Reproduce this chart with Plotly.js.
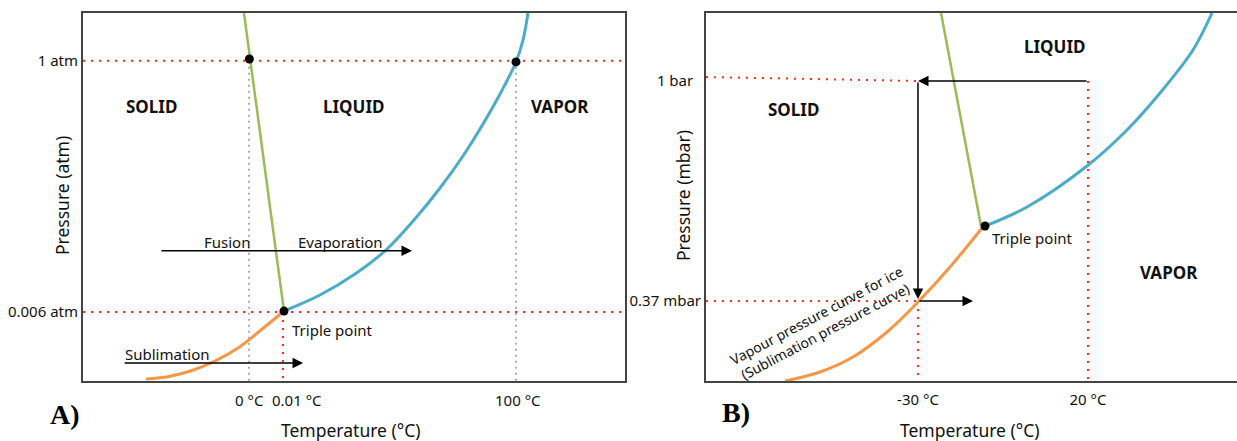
<!DOCTYPE html>
<html><head><meta charset="utf-8">
<script src="https://cdn.plot.ly/plotly-3.0.1.min.js"></script>
<style>html,body{margin:0;padding:0;background:#fff}#chart{width:1237px;height:441px}</style>
</head><body><div id="chart"></div>
<script>
// ---------- Panel A (schematic units: 0–100 across the frame) ----------
const aTickX = [30.63, 36.9, 79.89];
const aTickXText = ['0 °C', '0.01 °C', '100 °C'];
const aTickY = [18.75, 87.0];
const aTickYText = ['0.006 atm', '1 atm'];
const aMeltX = [29.70, 37.08];
const aMeltY = [100, 19.02];
const aVapX = [37.08, 43.73, 50.18, 55.90, 61.07, 65.87, 70.11, 73.80, 76.94, 79.89, 81.18, 82.10];
const aVapY = [19.02, 23.37, 29.08, 35.60, 43.75, 52.45, 61.14, 69.84, 77.99, 86.68, 92.66, 100];
const aSubX = [11.62, 15.87, 20.11, 24.35, 28.60, 32.84, 37.08];
const aSubY = [0.54, 1.22, 2.85, 5.43, 8.97, 13.86, 19.02];
const aDotX = [30.7, 37.08, 79.89];
const aDotY = [87.5, 19.0, 86.7];
const aRegionText = ['SOLID', 'LIQUID', 'VAPOR'];
const aRegionX = [12.55, 49.82, 88.0];
const aRegionY = [74.46, 74.46, 74.46];
const aArrowX0 = [14.2, 7.4];
const aArrowX1 = [60.7, 40.6];
const aArrowY = [35.4, 4.9];
const aLabelText = ['Fusion', 'Evaporation', 'Sublimation'];
const aLabelX = [26.57, 47.42, 15.5];
const aLabelY = [37.77, 37.77, 7.34];
const aTripleX = 38.2, aTripleY = 13.86;

// ---------- Panel B ----------
const bTickX = [39.92, 71.94];
const bTickXText = ['-30 °C', '20 °C'];
const bTickY = [21.74, 81.52];
const bTickYText = ['0.37 mbar', '1 bar\u00a0\u00a0'];
const bBarLineX = [0, 39.92];
const bBarLineY = [82.61, 81.52];
const bMeltX = [44.26, 51.79];
const bMeltY = [100, 42.12];
const bVapX = [52.54, 60.45, 71.75, 79.28, 85.50, 91.71, 95.29];
const bVapY = [42.12, 47.28, 58.42, 68.21, 78.26, 89.95, 100];
const bSubX = [14.88, 21.47, 27.68, 34.09, 39.92, 45.95, 51.98];
const bSubY = [0, 2.45, 6.52, 13.32, 21.47, 30.98, 41.58];
const bDotX = [52.54];
const bDotY = [42.12];
const bRegionText = ['SOLID', 'LIQUID', 'VAPOR'];
const bRegionX = [16.57, 65.54, 87.19];
const bRegionY = [73.9, 91.0, 29.6];
// path: 20 °C at 1 bar -> -30 °C at 1 bar -> -30 °C at 0.37 mbar -> heating
const bPathX0 = [71.94, 39.92, 39.92];
const bPathY0 = [81.52, 81.52, 21.74];
const bPathX1 = [39.92, 39.92, 50.28];
const bPathY1 = [81.52, 22.28, 21.74];
const bTripleX = 53.48, bTripleY = 38.86;
const bCurveNote = 'Vapour pressure curve for ice<br>(Sublimation pressure curve)';
const bCurveNoteX = 21.47, bCurveNoteY = 15.76;

// ---------- styling ----------
const W = 1237, H = 441;
const FONT = 'Noto Sans, Open Sans, sans-serif';
const GREEN = '#9bbb59', BLUE = '#4bacc6', ORANGE = '#f79646', RED = '#ff2a1a', GRAY = '#9a9a9a';
const redDot = {color: RED, width: 2, dash: '2px,6px'};
const grayDot = {color: GRAY, width: 1.6, dash: '2px,4px'};
const px2x = p => p / W, px2y = p => 1 - p / H;
const yDom = [px2y(381), px2y(13)];
const aTickShift = [0, 14, 2];   // label offsets (px) as laid out in the reference

function seg(xs0, ys0, xs1, ys1) {
  const x = [], y = [];
  for (let i = 0; i < xs0.length; i++) { x.push(xs0[i], xs1[i], null); y.push(ys0[i], ys1[i], null); }
  return {x, y};
}
function line(xy, ln, xa, ya, shape) {
  return {x: xy.x, y: xy.y, mode: 'lines', line: Object.assign({shape: shape || 'linear'}, ln),
          xaxis: xa, yaxis: ya, hoverinfo: 'skip', showlegend: false, connectgaps: false};
}

const traces = [];
// Panel A guides
traces.push(line(seg([0, 0], aTickY, [100, 100], aTickY), redDot, 'x', 'y'));
traces.push(line(seg([aTickX[0], aTickX[2]], [aTickY[1], aTickY[1]], [aTickX[0], aTickX[2]], [0, 0]), grayDot, 'x', 'y'));
traces.push(line(seg([aTickX[1]], [aTickY[0]], [aTickX[1]], [0]), redDot, 'x', 'y'));
// Panel A curves
traces.push(line({x: aMeltX, y: aMeltY}, {color: GREEN, width: 2.5}, 'x', 'y'));
traces.push(line({x: aVapX, y: aVapY}, {color: BLUE, width: 3, smoothing: 1}, 'x', 'y', 'spline'));
traces.push(line({x: aSubX, y: aSubY}, {color: ORANGE, width: 3, smoothing: 1}, 'x', 'y', 'spline'));
traces.push({x: aDotX, y: aDotY, mode: 'markers', marker: {color: '#000', size: 9}, xaxis: 'x', yaxis: 'y', hoverinfo: 'skip', showlegend: false});

// Panel B guides
traces.push(line({x: bBarLineX, y: bBarLineY}, redDot, 'x2', 'y2'));
traces.push(line(seg([0], [bTickY[0]], [bTickX[0]], [bTickY[0]]), redDot, 'x2', 'y2'));
traces.push(line(seg(bTickX, bTickY, bTickX, [0, 0]), redDot, 'x2', 'y2'));
// Panel B curves
traces.push(line({x: bMeltX, y: bMeltY}, {color: GREEN, width: 2.5}, 'x2', 'y2'));
traces.push(line({x: bVapX, y: bVapY}, {color: BLUE, width: 3, smoothing: 1}, 'x2', 'y2', 'spline'));
traces.push(line({x: bSubX, y: bSubY}, {color: ORANGE, width: 3, smoothing: 1}, 'x2', 'y2', 'spline'));
traces.push({x: bDotX, y: bDotY, mode: 'markers', marker: {color: '#000', size: 9}, xaxis: 'x2', yaxis: 'y2', hoverinfo: 'skip', showlegend: false});

const ann = [];
function txt(text, x, y, xr, yr, opts) {
  ann.push(Object.assign({text, x, y, xref: xr, yref: yr, showarrow: false, xanchor: 'center', yanchor: 'middle',
    font: {family: FONT, size: 15, color: '#111'}}, opts || {}));
}
function arrow(x0, y0, x1, y1, xr, yr) {
  ann.push({x: x1, y: y1, ax: x0, ay: y0, xref: xr, yref: yr, axref: xr, ayref: yr, text: '',
    showarrow: true, arrowhead: 2, arrowsize: 1.4, arrowwidth: 1.5, arrowcolor: '#000', standoff: 0});
}
const boldFont = {family: FONT, size: 17, color: '#111', weight: 'bold'};
aRegionText.forEach((t, i) => txt('<b>' + t + '</b>', aRegionX[i], aRegionY[i], 'x', 'y', {font: boldFont}));
bRegionText.forEach((t, i) => txt('<b>' + t + '</b>', bRegionX[i], bRegionY[i], 'x2', 'y2', {font: boldFont}));
aLabelText.forEach((t, i) => txt(t, aLabelX[i], aLabelY[i], 'x', 'y'));
txt('Triple point', aTripleX, aTripleY, 'x', 'y', {xanchor: 'left'});
txt('Triple point', bTripleX, bTripleY, 'x2', 'y2', {xanchor: 'left'});
txt(bCurveNote, bCurveNoteX, bCurveNoteY, 'x2', 'y2', {textangle: -28, font: {family: FONT, size: 14, color: '#111'}});
aArrowY.forEach((y, i) => arrow(aArrowX0[i], y, aArrowX1[i], y, 'x', 'y'));
bPathX0.forEach((x, i) => arrow(x, bPathY0[i], bPathX1[i], bPathY1[i], 'x2', 'y2'));
// Panel A temperature tick labels (placed as in the reference, 0.01 °C nudged right)
aTickXText.forEach((t, i) => txt(t, aTickX[i], px2y(400), 'x', 'paper', {xshift: aTickShift[i]}));
// axis titles and panel letters
const titleFont = {family: FONT, size: 17.5, color: '#111'};
txt('Temperature (°C)', px2x(350.5), px2y(430), 'paper', 'paper', {font: titleFont});
txt('Temperature (°C)', px2x(970), px2y(430), 'paper', 'paper', {font: titleFont});
txt('Pressure (atm)', px2x(62), px2y(196), 'paper', 'paper', {font: titleFont, textangle: -90});
txt('Pressure (mbar)', px2x(683), px2y(196), 'paper', 'paper', {font: titleFont, textangle: -90});
const letterFont = {family: 'Liberation Serif, Times New Roman, serif', size: 28, color: '#000'};
txt('<b>A)</b>', px2x(65), px2y(414), 'paper', 'paper', {font: letterFont});
txt('<b>B)</b>', px2x(736), px2y(412), 'paper', 'paper', {font: letterFont});

const axBase = {range: [0, 100], showgrid: false, zeroline: false, showline: true, linecolor: '#444', linewidth: 2,
  ticks: '', tickmode: 'array', tickangle: 0, tickfont: {family: FONT, size: 15, color: '#111'}, fixedrange: true};
const layout = {
  width: W, height: H, margin: {l: 0, r: 0, t: 0, b: 0}, paper_bgcolor: '#fff', plot_bgcolor: '#fff',
  showlegend: false, hovermode: false,
  xaxis: Object.assign({}, axBase, {domain: [px2x(83), px2x(625)], anchor: 'y', mirror: true, tickvals: aTickX, showticklabels: false}),
  yaxis: Object.assign({}, axBase, {domain: yDom, anchor: 'x', mirror: true, tickvals: aTickY, ticktext: aTickYText}),
  xaxis2: Object.assign({}, axBase, {domain: [px2x(706), 1], anchor: 'y2', mirror: true, tickvals: bTickX, ticktext: bTickXText, ticklabelstandoff: 4}),
  yaxis2: Object.assign({}, axBase, {domain: yDom, anchor: 'x2', mirror: false, tickvals: bTickY, ticktext: bTickYText}),
  annotations: ann
};
Plotly.newPlot('chart', traces, layout, {staticPlot: true, displayModeBar: false});
</script></body></html>
